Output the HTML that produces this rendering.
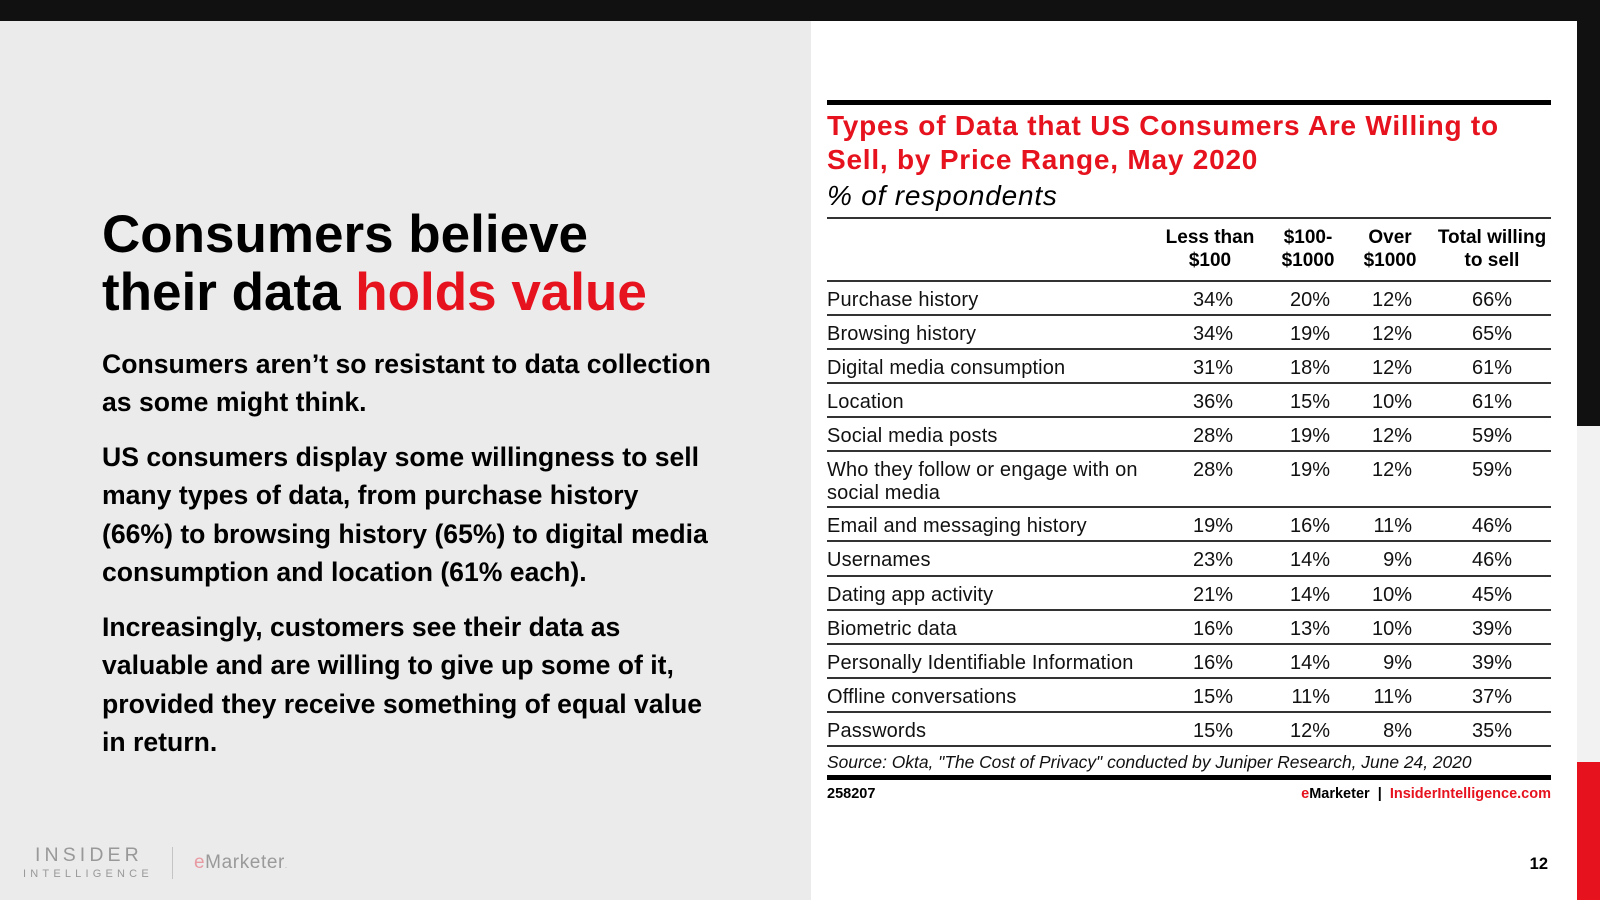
<!DOCTYPE html>
<html>
<head>
<meta charset="utf-8">
<style>
  html,body{margin:0;padding:0;}
  body{width:1600px;height:900px;position:relative;overflow:hidden;background:#ebebeb;font-family:"Liberation Sans",Arial,sans-serif;color:#000;}
  .abs{position:absolute;}
  .topbar{left:0;top:0;width:1600px;height:21px;background:#111;}
  .panel{left:811px;top:21px;width:766px;height:879px;background:#fff;}
  .rblack{left:1577px;top:0;width:23px;height:426px;background:#111;}
  .rgray{left:1577px;top:426px;width:23px;height:336px;background:#f2f2f2;}
  .rred{left:1577px;top:762px;width:23px;height:138px;background:#e6121e;}
  .red{color:#e6121e;}
  .h1{left:102px;top:206px;font-size:53px;font-weight:bold;line-height:58px;white-space:nowrap;}
  .p{left:102px;font-size:26.6px;font-weight:bold;line-height:38.3px;white-space:nowrap;}
  .thick{left:827px;width:724px;height:5px;background:#000;}
  .ln{left:827px;width:724px;height:2px;background:#333;}
  .title{left:827px;top:109px;font-size:28px;letter-spacing:0.78px;font-weight:bold;line-height:34px;white-space:nowrap;color:#e6121e;}
  .sub{left:827px;top:179px;font-size:28px;letter-spacing:0.8px;font-style:italic;line-height:34px;white-space:nowrap;}
  .hd{top:226px;width:140px;text-align:center;font-size:19px;font-weight:bold;line-height:23px;white-space:nowrap;}
  .r{position:absolute;left:827px;width:724px;height:34px;font-size:20px;line-height:23px;white-space:nowrap;color:#111;}
  .r .l{position:absolute;left:0;top:9px;letter-spacing:0.15px;}
  .r .v{position:absolute;top:9px;width:60px;text-align:right;}
  .c1{left:346px;} .c2{left:443px;} .c3{left:525px;} .c4{left:625px;}
  .src{left:827px;top:752px;font-size:17.4px;font-style:italic;line-height:20px;white-space:nowrap;color:#111;}
  .foot{top:785.5px;font-size:14.5px;font-weight:bold;line-height:17px;white-space:nowrap;}
  .pg{left:1500px;width:48px;text-align:right;top:855px;font-size:16.5px;font-weight:bold;line-height:19px;}
  .ins{left:35px;top:845px;font-size:19.5px;letter-spacing:4.1px;color:#999;line-height:20px;white-space:nowrap;}
  .int{left:23px;top:869px;font-size:11px;letter-spacing:4.2px;color:#999;line-height:11px;white-space:nowrap;}
  .div{left:172px;top:847px;width:1px;height:32px;background:#c4c4c4;}
  .em{left:194px;top:852px;font-size:19px;letter-spacing:0.6px;color:#9a9a9a;line-height:22px;white-space:nowrap;}
</style>
</head>
<body>
<div class="abs topbar"></div>
<div class="abs panel"></div>
<div class="abs rblack"></div>
<div class="abs rgray"></div>
<div class="abs rred"></div>

<div class="abs h1">Consumers believe<br>their data <span class="red">holds value</span></div>

<div class="abs p" style="top:345px;">Consumers aren’t so resistant to data collection<br>as some might think.</div>
<div class="abs p" style="top:438px;">US consumers display some willingness to sell<br>many types of data, from purchase history<br>(66%) to browsing history (65%) to digital media<br>consumption and location (61% each).</div>
<div class="abs p" style="top:608px;">Increasingly, customers see their data as<br>valuable and are willing to give up some of it,<br>provided they receive something of equal value<br>in return.</div>

<div class="abs ins">INSIDER</div>
<div class="abs int">INTELLIGENCE</div>
<div class="abs div"></div>
<div class="abs em"><span style="color:#e89aa2;">e</span>Marketer<span style="font-size:7px;">.</span></div>

<div class="abs thick" style="top:100px;"></div>
<div class="abs title">Types of Data that US Consumers Are Willing to<br>Sell, by Price Range, May 2020</div>
<div class="abs sub">% of respondents</div>
<div class="abs ln" style="top:217px;height:1.5px;"></div>

<div class="abs hd" style="left:1140px;">Less than<br>$100</div>
<div class="abs hd" style="left:1238px;">$100-<br>$1000</div>
<div class="abs hd" style="left:1320px;">Over<br>$1000</div>
<div class="abs hd" style="left:1422px;">Total willing<br>to sell</div>

<div class="abs ln" style="top:280px;"></div>
<div class="abs ln" style="top:314px;"></div>
<div class="abs ln" style="top:348px;"></div>
<div class="abs ln" style="top:382px;"></div>
<div class="abs ln" style="top:416px;"></div>
<div class="abs ln" style="top:450px;"></div>
<div class="abs ln" style="top:506px;"></div>
<div class="abs ln" style="top:540px;"></div>
<div class="abs ln" style="top:575px;"></div>
<div class="abs ln" style="top:609px;"></div>
<div class="abs ln" style="top:643px;"></div>
<div class="abs ln" style="top:677px;"></div>
<div class="abs ln" style="top:711px;"></div>
<div class="abs ln" style="top:745px;"></div>

<div class="r" style="top:280px;"><span class="l">Purchase history</span><span class="v c1">34%</span><span class="v c2">20%</span><span class="v c3">12%</span><span class="v c4">66%</span></div>
<div class="r" style="top:314px;"><span class="l">Browsing history</span><span class="v c1">34%</span><span class="v c2">19%</span><span class="v c3">12%</span><span class="v c4">65%</span></div>
<div class="r" style="top:348px;"><span class="l">Digital media consumption</span><span class="v c1">31%</span><span class="v c2">18%</span><span class="v c3">12%</span><span class="v c4">61%</span></div>
<div class="r" style="top:382px;"><span class="l">Location</span><span class="v c1">36%</span><span class="v c2">15%</span><span class="v c3">10%</span><span class="v c4">61%</span></div>
<div class="r" style="top:416px;"><span class="l">Social media posts</span><span class="v c1">28%</span><span class="v c2">19%</span><span class="v c3">12%</span><span class="v c4">59%</span></div>
<div class="r" style="top:450px;height:56px;"><span class="l">Who they follow or engage with on<br>social media</span><span class="v c1">28%</span><span class="v c2">19%</span><span class="v c3">12%</span><span class="v c4">59%</span></div>
<div class="r" style="top:506px;"><span class="l">Email and messaging history</span><span class="v c1">19%</span><span class="v c2">16%</span><span class="v c3">11%</span><span class="v c4">46%</span></div>
<div class="r" style="top:540px;"><span class="l">Usernames</span><span class="v c1">23%</span><span class="v c2">14%</span><span class="v c3">9%</span><span class="v c4">46%</span></div>
<div class="r" style="top:575px;"><span class="l">Dating app activity</span><span class="v c1">21%</span><span class="v c2">14%</span><span class="v c3">10%</span><span class="v c4">45%</span></div>
<div class="r" style="top:609px;"><span class="l">Biometric data</span><span class="v c1">16%</span><span class="v c2">13%</span><span class="v c3">10%</span><span class="v c4">39%</span></div>
<div class="r" style="top:643px;"><span class="l">Personally Identifiable Information</span><span class="v c1">16%</span><span class="v c2">14%</span><span class="v c3">9%</span><span class="v c4">39%</span></div>
<div class="r" style="top:677px;"><span class="l">Offline conversations</span><span class="v c1">15%</span><span class="v c2">11%</span><span class="v c3">11%</span><span class="v c4">37%</span></div>
<div class="r" style="top:711px;"><span class="l">Passwords</span><span class="v c1">15%</span><span class="v c2">12%</span><span class="v c3">8%</span><span class="v c4">35%</span></div>

<div class="abs src">Source: Okta, "The Cost of Privacy" conducted by Juniper Research, June 24, 2020</div>
<div class="abs thick" style="top:775px;"></div>

<div class="abs foot" style="left:827px;">258207</div>
<div class="abs foot" style="left:1151px;width:400px;text-align:right;"><span class="red">e</span>Marketer&nbsp; | &nbsp;<span class="red">InsiderIntelligence.com</span></div>

<div class="abs pg">12</div>
</body>
</html>
